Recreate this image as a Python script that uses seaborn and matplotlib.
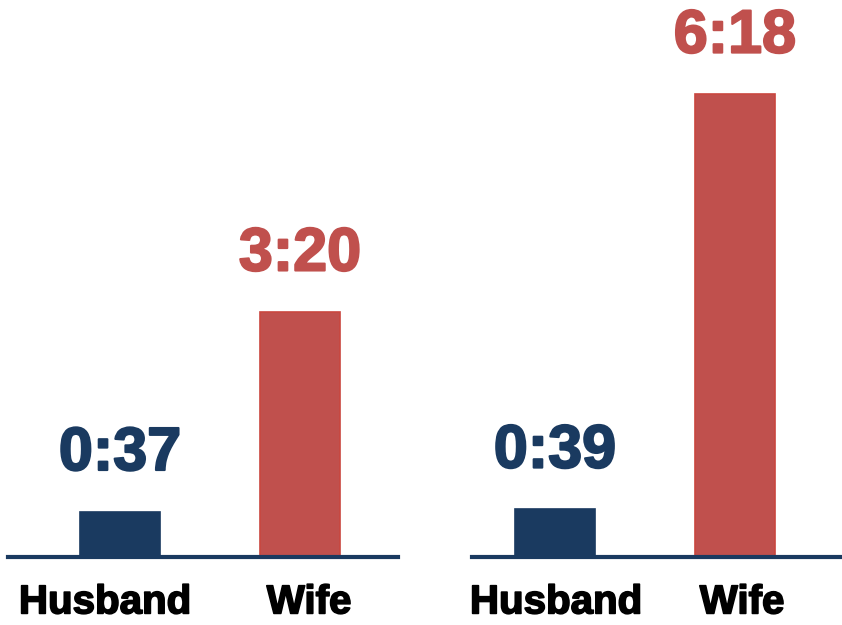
import matplotlib
matplotlib.use("Agg")
import matplotlib.pyplot as plt
import matplotlib.patheffects as pe
import seaborn as sns
import pandas as pd

# Time spent per day (minutes) on housework, two survey groups
roles = ["Husband", "Wife"]
left_minutes = [37, 200]
right_minutes = [39, 378]
left_labels = ["0:37", "3:20"]
right_labels = ["0:39", "6:18"]

navy = "#1a3a60"
red = "#c0504d"
red_edge = "#c9473f"

sns.set_theme(style="white")
plt.rcParams["font.family"] = ["Liberation Sans", "DejaVu Sans"]

fig = plt.figure(figsize=(8.42, 6.25), dpi=100)
W, H = 842, 625
base_y = 557

panels = [
    dict(vals=left_minutes, labels=left_labels, x0=8, x1=398, c0=120,
         tick_shift=(-15, 9)),
    dict(vals=right_minutes, labels=right_labels, x0=472, x1=842, c0=555,
         tick_shift=(1, 7)),
]
step = 180.0
ymax = 455

for p in panels:
    ax = fig.add_axes([p["x0"] / W, 1 - base_y / H, (p["x1"] - p["x0"]) / W, base_y / H])
    df = pd.DataFrame({"role": roles, "minutes": p["vals"]})
    sns.barplot(data=df, x="role", y="minutes", hue="role",
                palette=[navy, red], width=80 / step, ax=ax, legend=False,
                saturation=1)
    for patch, col in zip(ax.patches, [navy, red_edge]):
        patch.set_edgecolor(col)
        patch.set_linewidth(1.2)
    for i, (v, lab) in enumerate(zip(p["vals"], p["labels"])):
        col = navy if i == 0 else red
        ax.annotate(lab, (i, v), xytext=(0, 30), textcoords="offset points",
                    ha="center", va="baseline", fontsize=44, fontweight="bold",
                    color=col,
                    path_effects=[pe.withStroke(linewidth=1.5, foreground=col)])
    ax.set_xlim(-(p["c0"] - p["x0"]) / step, 1 + (p["x1"] - (p["c0"] + step)) / step)
    ax.set_ylim(0, ymax)
    ax.set_xticks([p["tick_shift"][0] / step, 1 + p["tick_shift"][1] / step])
    ax.set_xticklabels(roles, fontsize=29, fontweight="bold", color="black")
    for t in ax.get_xticklabels():
        t.set_path_effects([pe.withStroke(linewidth=1.2, foreground="black")])
    ax.tick_params(axis="x", length=0, pad=19)
    ax.set_yticks([])
    ax.set_xlabel("")
    ax.set_ylabel("")
    for s in ["top", "right", "left"]:
        ax.spines[s].set_visible(False)
    ax.spines["bottom"].set_color(navy)
    ax.spines["bottom"].set_linewidth(3)
    ax.set_facecolor("none")
    ax.patch.set_alpha(0)

fig.savefig("out.png", dpi=100, facecolor="white")
